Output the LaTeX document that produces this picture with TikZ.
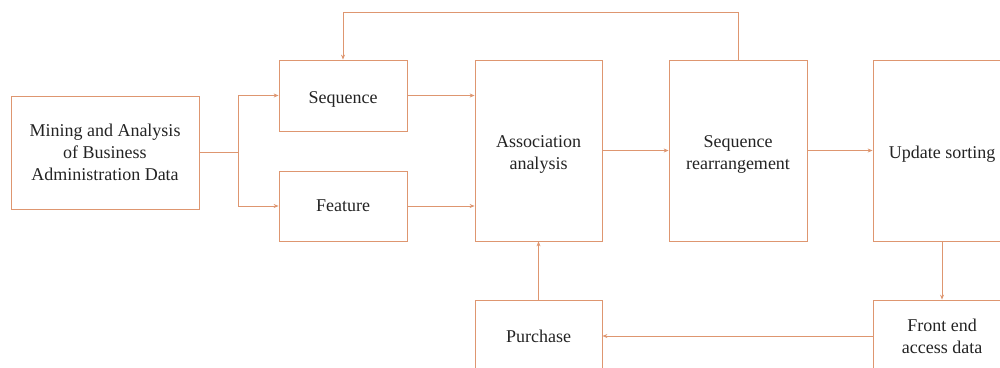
\documentclass[tikz,border=0pt]{standalone}
\usepackage{fontspec}
\setmainfont{Liberation Serif}
\usetikzlibrary{arrows.meta}
\definecolor{ln}{RGB}{222,150,112}
\definecolor{tx}{RGB}{35,35,35}
\newcommand{\lowstrut}{\rule{0pt}{20pt}}
\begin{document}
\begin{tikzpicture}[x=1pt,y=-1pt,
  box/.style={draw=ln,line width=0.8pt,rectangle,align=center,text=tx,inner sep=2pt,
    font=\fontsize{18}{22}\selectfont},
  low/.style={execute at begin node={\lowstrut}},
  arr/.style={draw=ln,line width=0.8pt,-{Stealth[length=5pt,width=4pt]}},
  ln/.style={draw=ln,line width=0.8pt}]
\useasboundingbox (0,0) rectangle (1000,367);
\clip (0,0) rectangle (1000,367);
\node[box,minimum width=188pt,minimum height=113pt] (mine) at (105,152.5) {Mining and Analysis\\of Business\\Administration Data};
\node[box,low,minimum width=128pt,minimum height=71pt] (seq) at (343,95.5) {Sequence};
\node[box,minimum width=128pt,minimum height=70pt] (feat) at (343,206) {Feature};
\node[box,minimum width=127pt,minimum height=181pt] (assoc) at (538.5,150.5) {\lowstrut Association\\analysis};
\node[box,minimum width=138pt,minimum height=181pt] (seqr) at (738,150.5) {\lowstrut Sequence\\rearrangement};
\node[box,low,minimum width=138pt,minimum height=181pt] (upd) at (942,150.5) {Update sorting};
\node[box,minimum width=138pt,minimum height=72pt] (front) at (942,336) {Front end\\access data};
\node[box,minimum width=127pt,minimum height=72pt] (purch) at (538.5,336) {Purchase};
\coordinate (split) at (238,152.5);
\coordinate (top) at (343,12);
\draw[ln] (mine.east) -- (split);
\draw[arr] (split) |- (seq.west);
\draw[arr] (split) |- (feat.west);
\draw[arr] (seq.east) -- (seq.east -| assoc.west);
\draw[arr] (feat.east) -- (feat.east -| assoc.west);
\draw[arr] (assoc.east) -- (seqr.west);
\draw[arr] (seqr.east) -- (upd.west);
\draw[arr] (seqr.north) |- (top) -- (seq.north);
\draw[arr] (upd.south) -- (front.north);
\draw[arr] (front.west) -- (purch.east);
\draw[arr] (purch.north) -- (assoc.south);
\end{tikzpicture}
\end{document}
